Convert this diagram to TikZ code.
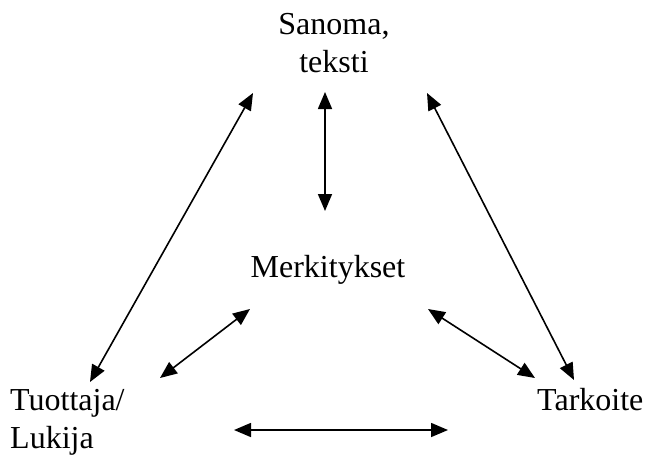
\documentclass[tikz,border=0pt]{standalone}
\usepackage{fontspec}
\setmainfont{Liberation Serif}
\usetikzlibrary{arrows.meta}
\tikzset{
  lbl/.style={inner sep=0pt, font=\fontsize{32}{37.5}\selectfont, align=left},
  conn/.style={line width=1.6pt, {Triangle[length=17pt,width=14pt]}-{Triangle[length=17pt,width=14pt]}}
}
\begin{document}
\begin{tikzpicture}[x=1pt,y=-1pt]
\useasboundingbox (0,0) rectangle (650,461);
\node[lbl, align=center, anchor=base] (sanoma) at (334,72) {Sanoma,\\teksti};
\node[lbl, anchor=base] (merk) at (328,277) {Merkitykset};
\node[lbl, anchor=base west] (tuottaja) at (10,448) {Tuottaja/\\Lukija};
\node[lbl, anchor=base west] (tarkoite) at (537,410) {Tarkoite};
\coordinate (a1) at (253,93);
\coordinate (a2) at (90,382);
\coordinate (b1) at (325,92);
\coordinate (b2) at (325,211);
\coordinate (c1) at (427,93);
\coordinate (c2) at (574,380);
\coordinate (d1) at (250,309);
\coordinate (d2) at (160,378);
\coordinate (e1) at (428,309);
\coordinate (e2) at (535,378);
\coordinate (f1) at (234,430);
\coordinate (f2) at (448,430);
\draw[conn] (a1) -- (a2);
\draw[conn] (b1) -- (b2);
\draw[conn] (c1) -- (c2);
\draw[conn] (d1) -- (d2);
\draw[conn] (e1) -- (e2);
\draw[conn] (f1) -- (f2);
\end{tikzpicture}
\end{document}
